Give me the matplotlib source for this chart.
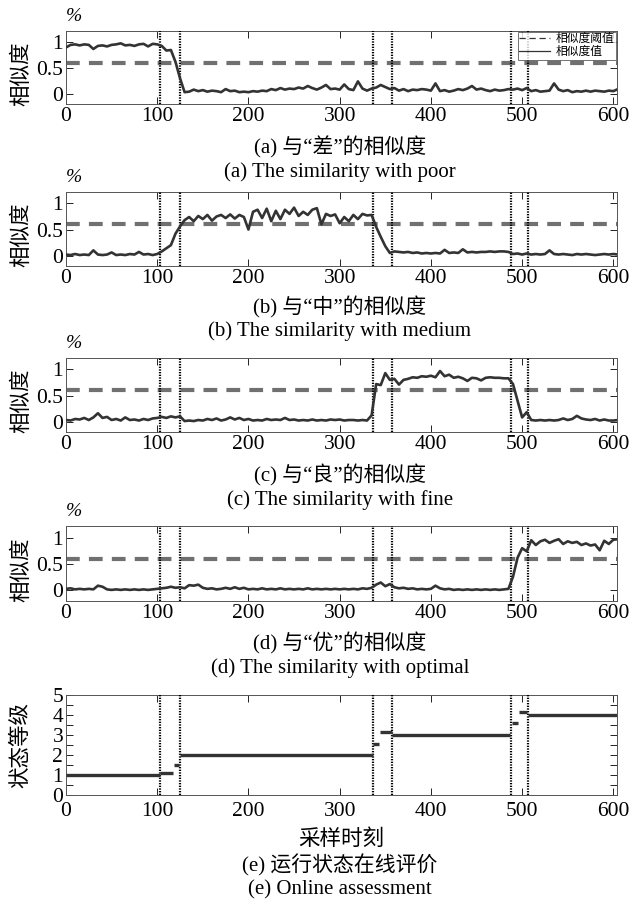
import matplotlib
matplotlib.use('Agg')
import matplotlib.pyplot as plt
import numpy as np
from matplotlib.lines import Line2D

plt.rcParams['font.family'] = ['Liberation Serif', 'Noto Sans CJK SC']

# sample positions (every 5 samples)
x = np.arange(0, 606, 5)

sim_poor = [
    0.90, 0.95, 0.96, 0.94, 0.96, 0.95, 0.87, 0.93, 0.94, 0.92,
    0.95, 0.96, 0.98, 0.94, 0.95, 0.93, 0.96, 0.97, 0.92, 0.97,
    0.96, 0.93, 0.84, 0.85, 0.62, 0.30, 0.03, 0.04, 0.08, 0.05,
    0.07, 0.04, 0.06, 0.05, 0.03, 0.09, 0.05, 0.06, 0.03, 0.04,
    0.03, 0.05, 0.04, 0.06, 0.05, 0.09, 0.07, 0.11, 0.08, 0.10,
    0.09, 0.12, 0.10, 0.15, 0.11, 0.08, 0.12, 0.17, 0.09, 0.10,
    0.08, 0.18, 0.09, 0.07, 0.24, 0.10, 0.06, 0.10, 0.12, 0.17,
    0.13, 0.09, 0.11, 0.06, 0.09, 0.05, 0.08, 0.07, 0.09, 0.08,
    0.06, 0.20, 0.05, 0.07, 0.04, 0.06, 0.09, 0.07, 0.10, 0.15,
    0.08, 0.10, 0.07, 0.05, 0.08, 0.06, 0.07, 0.09, 0.08, 0.10,
    0.07, 0.11, 0.05, 0.07, 0.04, 0.05, 0.06, 0.20, 0.08, 0.05,
    0.07, 0.03, 0.05, 0.04, 0.06, 0.04, 0.06, 0.05, 0.04, 0.06,
    0.05, 0.09]

sim_medium = [
    0.02, 0.01, 0.03, 0.01, 0.02, 0.01, 0.10, 0.02, 0.01, 0.02,
    0.06, 0.01, 0.02, 0.01, 0.03, 0.02, 0.07, 0.02, 0.03, 0.01,
    0.03, 0.08, 0.14, 0.20, 0.42, 0.56, 0.68, 0.74, 0.66, 0.76,
    0.70, 0.78, 0.67, 0.75, 0.78, 0.72, 0.79, 0.71, 0.78, 0.74,
    0.50, 0.84, 0.88, 0.72, 0.90, 0.66, 0.86, 0.70, 0.88, 0.80,
    0.92, 0.76, 0.84, 0.78, 0.88, 0.91, 0.60, 0.80, 0.76, 0.79,
    0.62, 0.74, 0.66, 0.78, 0.70, 0.80, 0.77, 0.78, 0.55, 0.36,
    0.18, 0.05, 0.08, 0.07, 0.06, 0.07, 0.05, 0.06, 0.04, 0.05,
    0.04, 0.05, 0.04, 0.11, 0.05, 0.06, 0.05, 0.12, 0.06, 0.07,
    0.06, 0.07, 0.07, 0.08, 0.07, 0.08, 0.08, 0.07, 0.03, 0.04,
    0.02, 0.04, 0.02, 0.03, 0.02, 0.03, 0.10, 0.03, 0.02, 0.03,
    0.02, 0.01, 0.03, 0.02, 0.03, 0.02, 0.01, 0.02, 0.03, 0.02,
    0.03, 0.02]

sim_fine = [
    0.03, 0.02, 0.05, 0.04, 0.07, 0.03, 0.08, 0.16, 0.07, 0.09,
    0.03, 0.05, 0.02, 0.08, 0.03, 0.04, 0.02, 0.05, 0.03, 0.06,
    0.07, 0.09, 0.07, 0.10, 0.08, 0.10, 0.01, 0.02, 0.01, 0.03,
    0.02, 0.05, 0.03, 0.06, 0.02, 0.04, 0.08, 0.04, 0.07, 0.03,
    0.05, 0.02, 0.03, 0.02, 0.05, 0.03, 0.04, 0.03, 0.07, 0.03,
    0.04, 0.02, 0.03, 0.02, 0.04, 0.02, 0.03, 0.02, 0.04, 0.03,
    0.04, 0.02, 0.03, 0.03, 0.02, 0.03, 0.02, 0.12, 0.72, 0.70,
    0.93, 0.80, 0.82, 0.71, 0.80, 0.82, 0.85, 0.84, 0.87, 0.86,
    0.88, 0.85, 0.97, 0.87, 0.90, 0.84, 0.86, 0.83, 0.78, 0.84,
    0.83, 0.79, 0.84, 0.85, 0.84, 0.84, 0.83, 0.83, 0.72, 0.40,
    0.08, 0.18, 0.03, 0.02, 0.03, 0.02, 0.03, 0.02, 0.03, 0.06,
    0.03, 0.05, 0.11, 0.06, 0.04, 0.03, 0.05, 0.02, 0.04, 0.02,
    0.02, 0.03]

sim_optimal = [
    0.03, 0.04, 0.02, 0.03, 0.02, 0.03, 0.02, 0.09, 0.07, 0.02,
    0.01, 0.02, 0.01, 0.02, 0.01, 0.02, 0.01, 0.02, 0.01, 0.02,
    0.03, 0.04, 0.05, 0.07, 0.05, 0.06, 0.04, 0.10, 0.09, 0.11,
    0.05, 0.03, 0.04, 0.02, 0.03, 0.05, 0.03, 0.06, 0.03, 0.05,
    0.02, 0.03, 0.02, 0.04, 0.02, 0.03, 0.02, 0.04, 0.02, 0.03,
    0.02, 0.03, 0.02, 0.04, 0.02, 0.03, 0.02, 0.03, 0.02, 0.03,
    0.02, 0.03, 0.02, 0.03, 0.02, 0.04, 0.03, 0.05, 0.11, 0.15,
    0.08, 0.12, 0.06, 0.04, 0.05, 0.03, 0.04, 0.02, 0.03, 0.02,
    0.03, 0.09, 0.04, 0.02, 0.03, 0.01, 0.02, 0.01, 0.02, 0.01,
    0.02, 0.01, 0.02, 0.01, 0.02, 0.01, 0.02, 0.03, 0.26, 0.62,
    0.80, 0.74, 0.95, 0.86, 0.93, 0.96, 0.90, 0.94, 0.97, 0.88,
    0.93, 0.90, 0.92, 0.86, 0.89, 0.85, 0.87, 0.76, 0.94, 0.88,
    0.96, 0.97]

threshold = 0.6
boundaries = [103, 125, 337, 357, 488, 506]

# online assessment: state level segments
seg_start = [0, 103, 118, 125, 337, 344, 357, 489, 497, 506]
seg_end = [103, 117, 124, 337, 343, 357, 487, 496, 505, 604]
seg_level = [1.0, 1.12, 1.52, 2.0, 2.55, 3.15, 3.0, 3.6, 4.15, 4.0]

captions_cn = ['(a) 与“差”的相似度', '(b) 与“中”的相似度',
               '(c) 与“良”的相似度', '(d) 与“优”的相似度']
captions_en = ['(a) The similarity with poor', '(b) The similarity with medium',
               '(c) The similarity with fine', '(d) The similarity with optimal']

W, H = 633, 901
fig = plt.figure(figsize=(W / 100, H / 100), dpi=100)

left_px, right_px = 66, 617
# (top, bottom) of each similarity axes in pixels, caption rows
panel_px = [(31, 104), (192, 266), (358, 432), (526, 601)]
cap_px = [(147, 172), (307, 331), (475, 500), (643, 668)]


def px_axes(top, bottom):
    return fig.add_axes([left_px / W, 1 - bottom / H,
                         (right_px - left_px) / W, (bottom - top) / H])


def style_axes(ax):
    ax.set_xlim(0, 604)
    ax.set_xticks(np.arange(0, 601, 100))
    ax.tick_params(direction='in', top=True, right=True, length=5,
                   width=0.6, labelsize=15.5, pad=2)
    ax.tick_params(which='minor', direction='in', top=True, right=True,
                   length=5, width=0.6)
    for s in ax.spines.values():
        s.set_linewidth(0.7)
        s.set_color('#555555')
    for b in boundaries:
        ax.axvline(b, color='k', lw=1.6, ls=(0, (0.6, 0.6)), zorder=3)


series = [sim_poor, sim_medium, sim_fine, sim_optimal]
for i, vals in enumerate(series):
    top, bottom = panel_px[i]
    ax = px_axes(top, bottom)
    style_axes(ax)
    ax.axhline(threshold, color='#707070', lw=3, ls=(0, (3.3, 2.2)), zorder=2)
    ax.plot(x, vals, color='#333333', lw=1.9, zorder=4)
    ax.set_ylim(-0.2, 1.22)
    ax.set_yticks([0, 0.5, 1])
    ax.set_yticklabels(['0', '0.5', '1'])
    ax.set_ylabel('相似度', fontsize=15.5)
    ax.yaxis.set_label_coords(-0.062, 0.42)
    ax.text(0.0, 1.08, '%', transform=ax.transAxes, fontsize=14,
            style='italic', ha='left', va='bottom')
    fig.text(0.537, 1 - cap_px[i][0] / H, captions_cn[i], fontsize=15,
             ha='center', va='center')
    fig.text(0.537, 1 - cap_px[i][1] / H, captions_en[i], fontsize=15,
             ha='center', va='center')
    if i == 0:
        handles = [Line2D([], [], color='#333333', lw=0.9, ls=(0, (5, 3))),
                   Line2D([], [], color='#333333', lw=0.9)]
        leg = ax.legend(handles, ['相似度阈值', '相似度值'], loc='upper right',
                        fontsize=8.5, frameon=True, fancybox=False,
                        borderaxespad=0.05, borderpad=0.15, labelspacing=0.05,
                        handlelength=2.6, handletextpad=0.5)
        leg.get_frame().set_edgecolor('#333333')
        leg.get_frame().set_linewidth(0.6)
        leg.set_zorder(10)

# panel (e): online assessment
ax = px_axes(695, 795)
style_axes(ax)
ax.tick_params(axis='x', pad=5)
ax.hlines(seg_level, seg_start, seg_end, color='#333333', lw=2.4, zorder=4)
ax.set_ylim(0, 5)
ax.set_yticks(np.arange(0, 6, 1))
ax.set_yticks(np.arange(0.5, 5, 1), minor=True)
ax.set_ylabel('状态等级', fontsize=15.5)
ax.yaxis.set_label_coords(-0.062, 0.5)
ax.set_xlabel('采样时刻', fontsize=15.5, labelpad=6)
fig.text(0.537, 1 - 865 / H, '(e) 运行状态在线评价', fontsize=15,
         ha='center', va='center')
fig.text(0.537, 1 - 890 / H, '(e) Online assessment', fontsize=15,
         ha='center', va='center')

fig.savefig('out.png', dpi=100)
